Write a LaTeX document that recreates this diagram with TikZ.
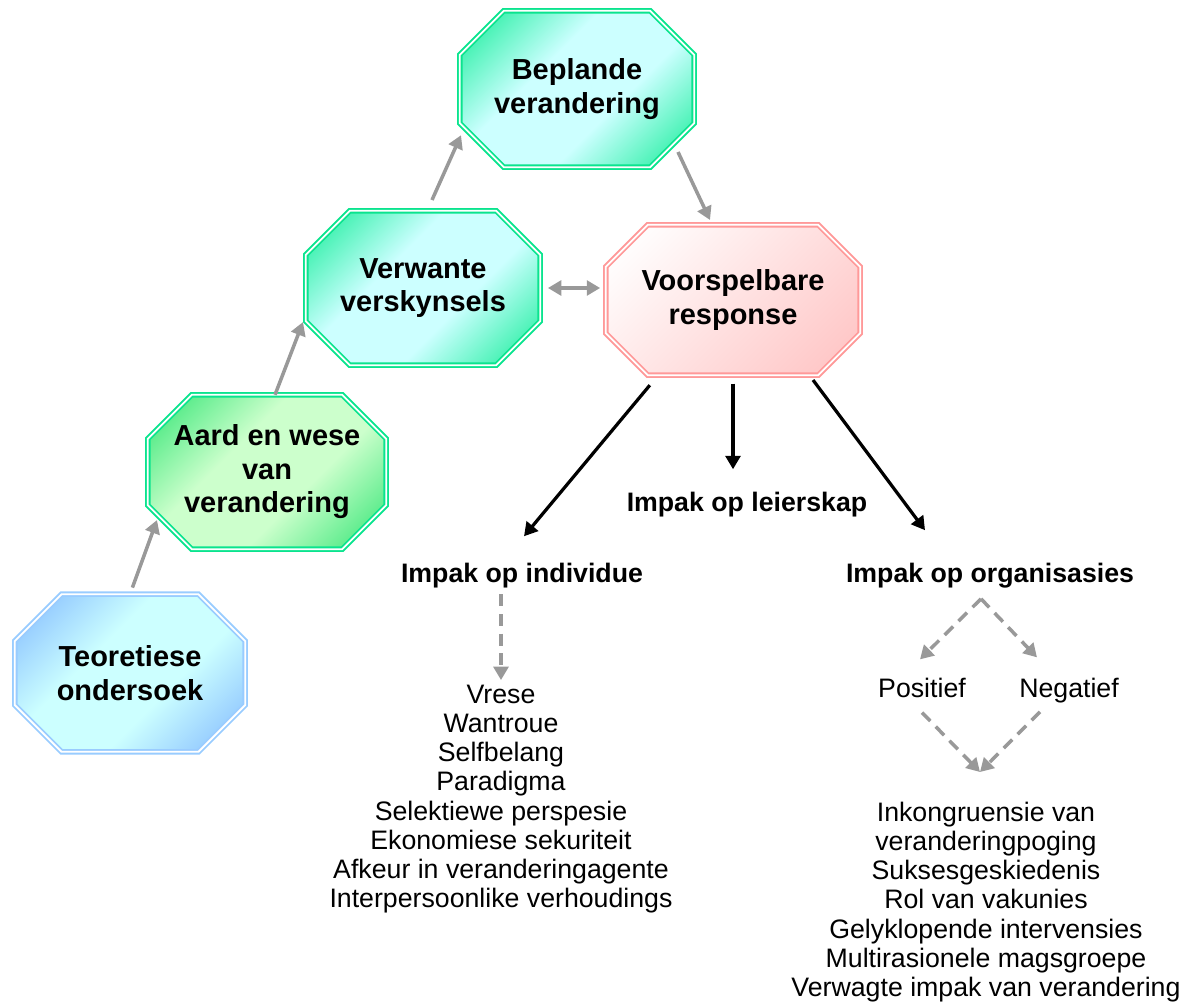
\documentclass[tikz,border=0pt]{standalone}
\usepackage{fontspec}
\setmainfont{Liberation Sans}
\usetikzlibrary{calc,arrows.meta,backgrounds,positioning}

\definecolor{mintline}{RGB}{10,228,142}
\definecolor{mintdeep}{RGB}{70,242,180}
\definecolor{icecyan}{RGB}{204,255,255}
\definecolor{leafdeep}{RGB}{92,236,140}
\definecolor{leaflight}{RGB}{204,255,204}
\definecolor{skyline}{RGB}{153,204,255}
\definecolor{skydeep}{RGB}{150,204,255}
\definecolor{roseline}{RGB}{255,153,153}
\definecolor{rosedeep}{RGB}{255,196,196}
\definecolor{flowgray}{RGB}{153,153,153}

\pgfdeclarehorizontalshading{mintglow}{100bp}{color(0bp)=(mintdeep); color(22bp)=(mintdeep); color(40bp)=(icecyan); color(60bp)=(icecyan); color(78bp)=(mintdeep); color(100bp)=(mintdeep)}
\pgfdeclarehorizontalshading{leafglow}{100bp}{color(0bp)=(leafdeep); color(22bp)=(leafdeep); color(40bp)=(leaflight); color(60bp)=(leaflight); color(78bp)=(leafdeep); color(100bp)=(leafdeep)}
\pgfdeclarehorizontalshading{skyglow}{100bp}{color(0bp)=(skydeep); color(22bp)=(skydeep); color(40bp)=(icecyan); color(60bp)=(icecyan); color(78bp)=(skydeep); color(100bp)=(skydeep)}
\pgfdeclarehorizontalshading{rosefade}{100bp}{color(0bp)=(white); color(20bp)=(white); color(82bp)=(rosedeep); color(100bp)=(rosedeep)}

% octagon round a stage node: node name, corner cut
\newcommand{\octagonpath}[2]{($(#1.north west)+(#2,0)$) -- ($(#1.north east)+(-#2,0)$) -- ($(#1.north east)+(0,-#2)$) -- ($(#1.south east)+(0,#2)$) -- ($(#1.south east)+(-#2,0)$) -- ($(#1.south west)+(#2,0)$) -- ($(#1.south west)+(0,#2)$) -- ($(#1.north west)+(0,-#2)$) -- cycle}

\tikzset{
    stage/.style={
    rectangle,inner sep=0pt,outer sep=0pt,align=center,font=\fontsize{20.6}{23.8}\selectfont\bfseries
    },
    octa/.style={
    double,line width=1.3pt,double distance=1.3pt,shade,shading angle=-45
    },
    mintocta/.style={
    octa,draw=mintline,shading=mintglow
    },
    leafocta/.style={
    octa,draw=mintline,shading=leafglow
    },
    skyocta/.style={
    octa,draw=skyline,shading=skyglow
    },
    roseocta/.style={
    octa,draw=roseline,shading=rosefade
    },
    heading/.style={
    inner sep=0pt,font=\fontsize{19}{22}\selectfont\bfseries
    },
    branch/.style={
    inner sep=0pt,font=\fontsize{19}{22}\selectfont
    },
    itemlist/.style={
    inner sep=0pt,align=center,font=\fontsize{19}{20.7}\selectfont
    },
    flow/.style={
    draw=flowgray,line width=2.5pt
    },
    impact/.style={
    draw=black,line width=2.3pt
    },
    dflow/.style={
    draw=flowgray,line width=2.5pt,dash pattern=on 8.5pt off 5.5pt
    },
}

\begin{document}
\begin{tikzpicture}[>={Triangle[length=9.5pt,width=10.5pt]}]
   \useasboundingbox (0,0) rectangle (29.95,-25.1);

   %stages
   \node[stage,minimum width=5.76cm,minimum height=3.94cm] (teo) at (3.25,-16.825) {Teoretiese\\ondersoek};
   \node[stage,minimum width=5.96cm,minimum height=3.86cm] (aard) at (6.675,-11.8) {Aard en wese\\van\\verandering};
   \node[stage,minimum width=5.86cm,minimum height=3.86cm] (verw) at (10.575,-7.2) {Verwante\\verskynsels};
   \node[stage,minimum width=5.86cm,minimum height=3.91cm] (bepl) at (14.425,-2.225) {Beplande\\verandering};
   \node[stage,minimum width=6.36cm,minimum height=3.76cm] (voor) at (18.325,-7.5) {Voorspelbare\\response};

   \begin{scope}[on background layer]
     \path[skyocta] \octagonpath{teo}{1.17};
     \path[leafocta] \octagonpath{aard}{1.1};
     \path[mintocta] \octagonpath{verw}{1.1};
     \path[mintocta] \octagonpath{bepl}{1.1};
     \path[roseocta] \octagonpath{voor}{1.05};
   \end{scope}

   %impact
   \node[heading] (leier) at (18.675,-12.625) {Impak op leierskap};
   \node[heading] (indiv) at (13.05,-14.4) {Impak op individue};
   \node[heading] (org) at (24.75,-14.4) {Impak op organisasies};

   %organisasies
   \node[branch,anchor=base] (pos) at (23.05,-17.425) {Positief};
   \node[branch,anchor=base] (neg) at (26.725,-17.425) {Negatief};
   \coordinate (fork) at ($(org.south)+(-0.225,-0.25)$);

   %lists
   \node[itemlist,anchor=north] (indivlist) at (12.525,-17.125) {Vrese\\Wantroue\\Selfbelang\\Paradigma\\Selektiewe perspesie\\Ekonomiese sekuriteit\\Afkeur in veranderingagente\\Interpersoonlike verhoudings};
   \node[itemlist,anchor=north] (orglist) at (24.65,-20.05) {Inkongruensie van\\veranderingpoging\\Suksesgeskiedenis\\Rol van vakunies\\Gelyklopende intervensies\\Multirasionele magsgroepe\\Verwagte impak van verandering};
   \coordinate (merge) at ($(orglist.north)+(-0.15,0.75)$);

  \path[->]
    %stages
    (teo.north) edge[flow,shorten <=5pt] ($(aard.south west)+(0.23,0.73)$)
    ($(aard.north)+(0.2,0)$) edge[flow] ($(verw.west)+(-0.07,-0.85)$)
    ($(verw.north)+(0.225,0.27)$) edge[flow] ($(bepl.south west)+(0.03,0.8)$)
    ($(bepl.south east)+(-0.405,0.38)$) edge[flow] ($(voor.north)+(-0.575,0.12)$)
    (verw.east) edge[flow,<->,shorten <=5.5pt,shorten >=4pt] (verw.east -| voor.west)

    %impact
    ($(voor.south west)+(1.1,-0.25)$) edge[impact] ($(indiv.north)+(0.05,0.675)$)
    (voor.south) edge[impact,shorten <=6pt] ($(voor.south |- leier.north)+(0,0.575)$)
    ($(voor.south east)+(-1.18,-0.12)$) edge[impact] ($(org.north)+(-1.625,0.825)$)

    %individue
    (indiv.south -| indivlist.north) edge[dflow,shorten <=4pt,shorten >=3.5pt] (indivlist.north)

    %organisasies
    (fork) edge[dflow] ($(pos.north)+(-0.05,0.45)$)
    (fork) edge[dflow] ($(neg.north)+(-0.8,0.5)$)
    ($(pos.south)+(0,-0.375)$) edge[dflow] (merge)
    ($(neg.south)+(-0.725,-0.225)$) edge[dflow] (merge);
\end{tikzpicture}
\end{document}
